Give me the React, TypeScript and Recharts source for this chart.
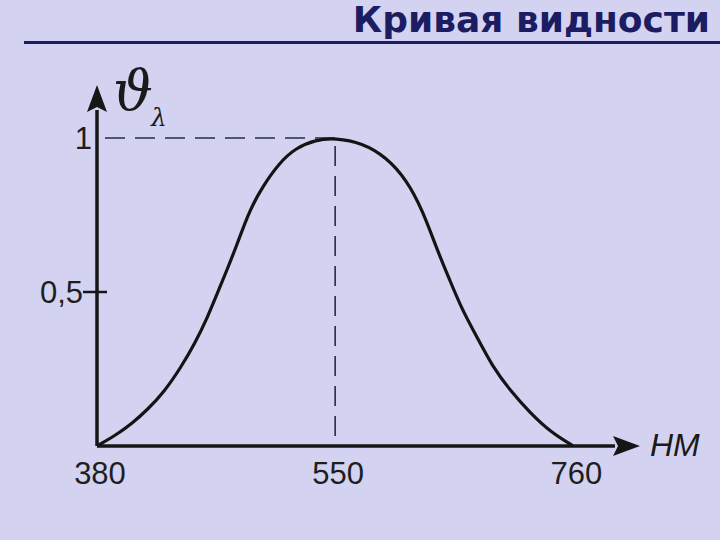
import { LineChart, Line, XAxis, YAxis, ReferenceLine } from 'recharts';

// ── Data ──────────────────────────────────────────────────────

const WAVELENGTHS = [380, 393, 405, 416, 428, 440, 450, 459, 466, 473, 480, 489, 498, 510, 522, 536, 550, 574, 595, 613, 627, 640, 651, 662, 675, 689, 704, 722, 740, 760];
const VISIBILITY = [0, 0.034, 0.073, 0.118, 0.176, 0.256, 0.334, 0.419, 0.497, 0.574, 0.655, 0.766, 0.841, 0.919, 0.968, 0.994, 1, 0.984, 0.938, 0.864, 0.766, 0.636, 0.539, 0.442, 0.354, 0.256, 0.182, 0.107, 0.045, 0];

const X_TICKS = [380, 550, 760];
const X_TICK_LABELS = ['380', '550', '760'];
const Y_TICKS = [0.5, 1];
const Y_TICK_LABELS = ['0,5', '1'];
const PEAK_WAVELENGTH = 550;
const PEAK_VALUE = 1;

// ── Helpers ───────────────────────────────────────────────────

// the picture spaces the x ticks evenly, so wavelength is mapped piecewise onto tick index
const toPos = (w: number) => {
    for (let i = 0; i < X_TICKS.length - 1; i++) {
        if (w <= X_TICKS[i + 1]) return i + (w - X_TICKS[i]) / (X_TICKS[i + 1] - X_TICKS[i]);
    }
    return X_TICKS.length - 1;
};

const data = WAVELENGTHS.map((w, i) => ({ pos: toPos(w), v: VISIBILITY[i] }));

const BG = '#d3d3f1';
const NAVY = '#1c1c62';
const INK = '#161616';
const X_MAX = 2.28;
const Y_MAX = 1.172;

const ArrowLine = (props: any) => {
    const { x1, y1, x2, y2 } = props;
    const dx = x2 - x1, dy = y2 - y1;
    const len = Math.sqrt(dx * dx + dy * dy) || 1;
    const ux = dx / len, uy = dy / len;
    const head = 27, half = 10;
    const bx = x2 - ux * head, by = y2 - uy * head;
    return (
        <g>
            <line x1={x1} y1={y1} x2={bx + ux * 2} y2={by + uy * 2} stroke={INK} strokeWidth={3.5} />
            <polygon
                points={`${x2},${y2} ${bx - uy * half},${by + ux * half} ${bx + ux * 5},${by + uy * 5} ${bx + uy * half},${by - ux * half}`}
                fill={INK}
            />
        </g>
    );
};

const YTick = (props: any) => {
    const { x, y, payload } = props;
    const idx = Y_TICKS.indexOf(payload.value);
    const isTop = payload.value === 1;
    return (
        <g>
            {!isTop && <line x1={x - 14} y1={y} x2={x + 10} y2={y} stroke={INK} strokeWidth={2.5} />}
            <text
                x={isTop ? x - 5 : x - 14}
                y={y}
                dy="0.36em"
                textAnchor="end"
                fontFamily="'Liberation Sans', Arial, sans-serif"
                fontSize={31}
                fill="#1e1e1e"
            >
                {Y_TICK_LABELS[idx]}
            </text>
        </g>
    );
};

// ── Component ─────────────────────────────────────────────────

export default function App() {
    return (
        <div style={{ position: 'fixed', left: 0, top: 0, width: 720, height: 540, background: BG, overflow: 'hidden' }}>
            <LineChart
                width={720}
                height={540}
                data={data}
                margin={{ top: 85, right: 80, bottom: 44, left: 37 }}
                style={{ position: 'absolute', left: 0, top: 0 }}
            >
                <XAxis
                    type="number"
                    dataKey="pos"
                    domain={[0, X_MAX]}
                    ticks={X_TICKS.map(toPos)}
                    tickFormatter={(v: number) => X_TICK_LABELS[Math.round(v)]}
                    axisLine={false}
                    tickLine={false}
                    tickSize={0}
                    tickMargin={16}
                    height={50}
                    tick={{ fontFamily: "'Liberation Sans', Arial, sans-serif", fontSize: 31, fill: '#1e1e1e', dx: 3 }}
                />
                <YAxis
                    type="number"
                    domain={[0, Y_MAX]}
                    ticks={Y_TICKS}
                    axisLine={false}
                    tickLine={false}
                    tickSize={0}
                    tickMargin={0}
                    width={60}
                    tick={<YTick />}
                />
                <ReferenceLine
                    segment={[{ x: 0, y: PEAK_VALUE }, { x: toPos(PEAK_WAVELENGTH), y: PEAK_VALUE }]}
                    stroke="#2a2a48"
                    strokeWidth={1.6}
                    strokeDasharray="20 10"
                    strokeDashoffset={22}
                    ifOverflow="visible"
                />
                <ReferenceLine
                    segment={[{ x: toPos(PEAK_WAVELENGTH), y: PEAK_VALUE }, { x: toPos(PEAK_WAVELENGTH), y: 0 }]}
                    stroke="#2a2a48"
                    strokeWidth={1.6}
                    strokeDasharray="20 10"
                    strokeDashoffset={-8}
                    ifOverflow="visible"
                />
                <ReferenceLine
                    segment={[{ x: 0, y: 0 }, { x: X_MAX, y: 0 }]}
                    ifOverflow="visible"
                    shape={ArrowLine}
                />
                <ReferenceLine
                    segment={[{ x: 0, y: 0 }, { x: 0, y: Y_MAX }]}
                    ifOverflow="visible"
                    shape={ArrowLine}
                />
                <Line
                    type="basis"
                    dataKey="v"
                    stroke="#141414"
                    strokeWidth={3.2}
                    dot={false}
                    isAnimationActive={false}
                />
            </LineChart>

            {/* title, rule and axis names */}
            <svg width={720} height={540} style={{ position: 'absolute', left: 0, top: 0, pointerEvents: 'none' }}>
                <text x={710} y={32} textAnchor="end" fontFamily="'DejaVu Sans', Verdana, sans-serif" fontWeight="bold" fontSize={36} fill={NAVY}>
                    Кривая видности
                </text>
                <rect x={24} y={41} width={696} height={3} fill={NAVY} />
                <text x={113} y={110} fontFamily="'DejaVu Serif', 'Liberation Serif', serif" fontStyle="italic" fontSize={56} fill="#1a1a1a">
                    ϑ
                </text>
                <text x={151} y={126} fontFamily="'DejaVu Serif', 'Liberation Serif', serif" fontStyle="italic" fontSize={25} fill="#1a1a1a">
                    λ
                </text>
                <text x={650} y={456} fontFamily="'Liberation Sans', Arial, sans-serif" fontStyle="italic" fontSize={32} fill="#1a1a1a">
                    НМ
                </text>
            </svg>
        </div>
    );
}
